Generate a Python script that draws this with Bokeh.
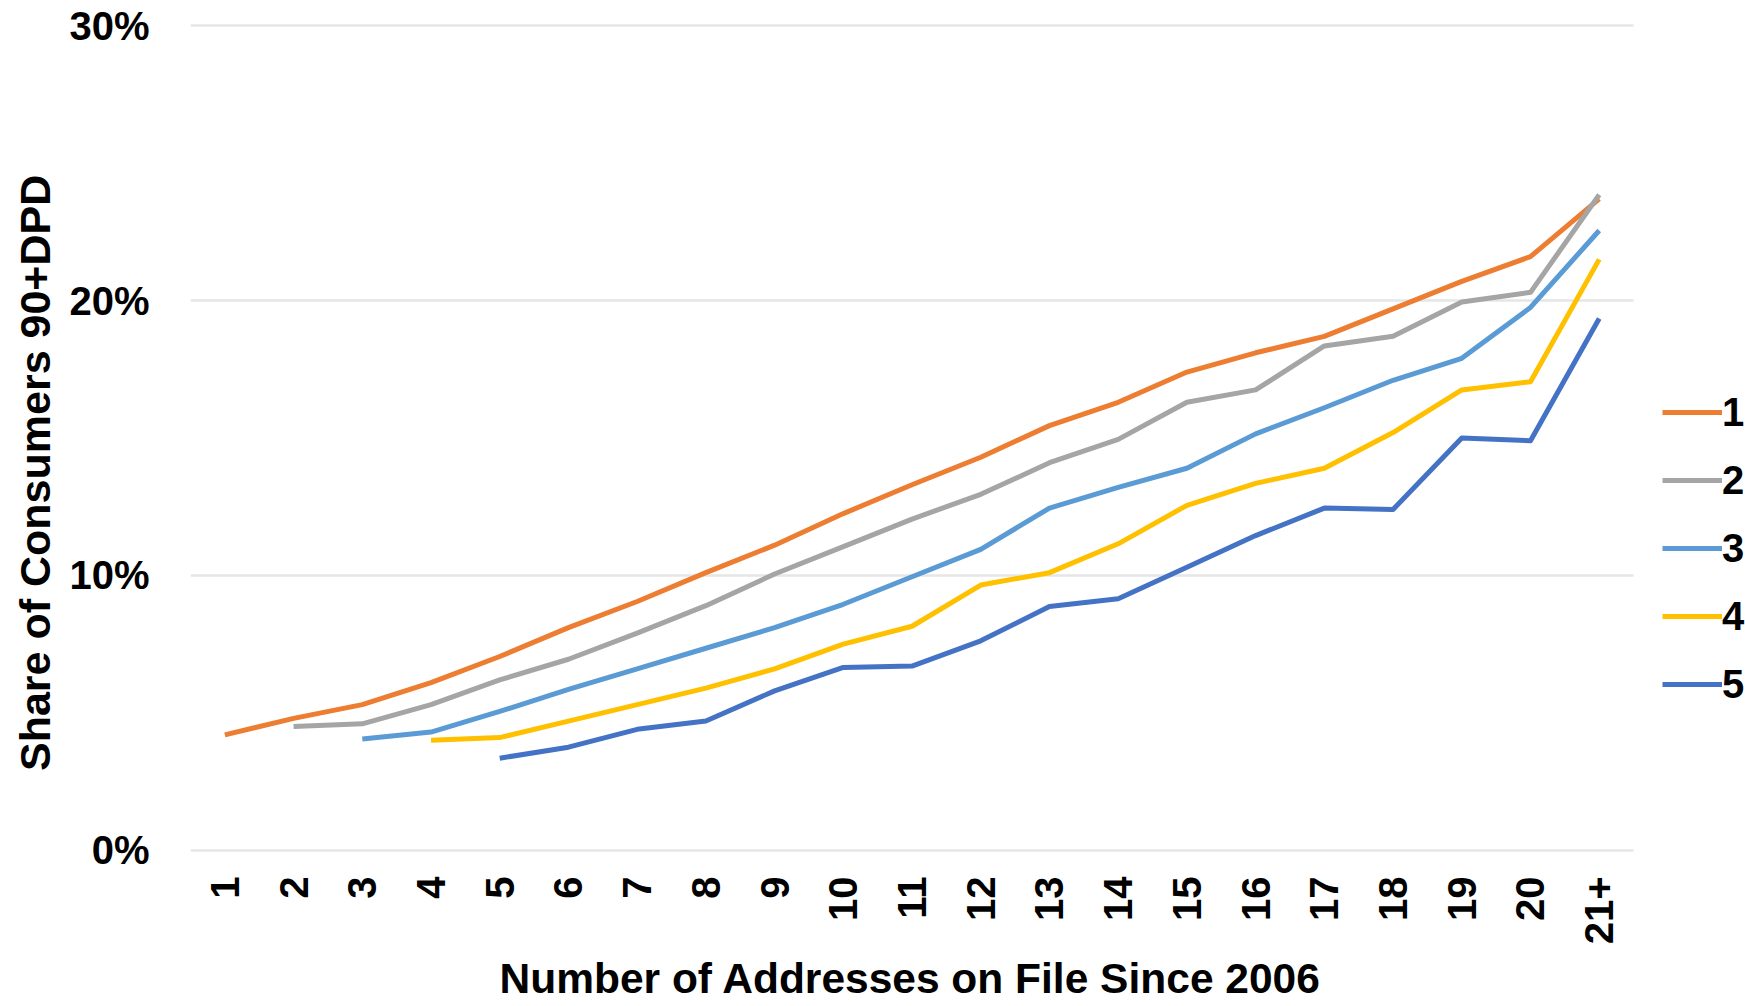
import math
from bokeh.plotting import figure
from bokeh.models import (Range1d, FixedTicker, NumeralTickFormatter,
                          Legend, LegendItem, Title, ColumnDataSource)
from bokeh.embed import file_html
from bokeh.resources import INLINE

nan = float("nan")

categories = [str(i) for i in range(1, 21)] + ["21+"]

series_names = ["1", "2", "3", "4", "5"]
series_colors = ["#ED7D31", "#A5A5A5", "#5B9BD5", "#FFC000", "#4472C4"]

s1 = [4.2, 4.8, 5.3, 6.1, 7.05, 8.1, 9.05, 10.1, 11.1, 12.25, 13.3, 14.3, 15.45,
      16.3, 17.4, 18.1, 18.7, 19.7, 20.7, 21.6, 23.7]
s2 = [nan, 4.5, 4.6, 5.3, 6.2, 6.95, 7.9, 8.9, 10.05, 11.05, 12.05, 12.95, 14.1,
      14.95, 16.3, 16.75, 18.35, 18.7, 19.95, 20.3, 23.85]
s3 = [nan, nan, 4.05, 4.3, 5.05, 5.85, 6.6, 7.35, 8.1, 8.95, 9.95, 10.95, 12.45,
      13.2, 13.9, 15.15, 16.1, 17.1, 17.9, 19.75, 22.55]
s4 = [nan, nan, nan, 4.0, 4.1, 4.7, 5.3, 5.9, 6.6, 7.5, 8.15, 9.65, 10.1,
      11.15, 12.55, 13.35, 13.9, 15.2, 16.75, 17.05, 21.5]
s5 = [nan, nan, nan, nan, 3.35, 3.75, 4.4, 4.7, 5.8, 6.65, 6.7, 7.62, 8.87,
      9.15, 10.3, 11.45, 12.45, 12.4, 15.0, 14.9, 19.35]

y_ticks = [0.0, 0.1, 0.2, 0.3]
x_title = "Number of Addresses on File Since 2006"
y_title = "Share of Consumers 90+DPD"

FONT = "Liberation Sans"

# category slots are placed at 1..N on a numeric axis; the frame is extended
# to the right so that the legend can sit inside it
x_pos = list(range(1, len(categories) + 1))
n = len(categories)
W, H = 1745, 1006
LEFT = 189
plot_w = 1444                      # width of the category area in px
slot = plot_w / n
frame_w = W - LEFT
x_end = 0.5 + frame_w / slot

p = figure(width=W, height=H, output_backend="svg", toolbar_location=None,
           x_range=Range1d(0.5, x_end),
           y_range=Range1d(-0.003, 0.303),
           min_border_left=LEFT, min_border_right=0,
           min_border_top=17, min_border_bottom=147)
p.title.visible = False
p.outline_line_color = None
p.background_fill_color = "white"
p.border_fill_color = "white"

p.xgrid.grid_line_color = None
p.ygrid.grid_line_color = "#E6E6E6"
p.ygrid.grid_line_width = 2.5
try:
    p.ygrid.cross_bounds = (0.5, n + 0.5)
except Exception:
    pass

p.yaxis.ticker = FixedTicker(ticks=y_ticks)
p.yaxis.formatter = NumeralTickFormatter(format="0%")
p.xaxis.ticker = FixedTicker(ticks=x_pos)
p.xaxis.major_label_overrides = {i: c for i, c in zip(x_pos, categories)}
p.xaxis.bounds = (0.5, n + 0.5)
for ax in (p.xaxis[0], p.yaxis[0]):
    ax.axis_line_color = None
    ax.major_tick_line_color = None
    ax.minor_tick_line_color = None
    ax.major_tick_out = 0
    ax.major_tick_in = 0
    ax.minor_tick_out = 0
    ax.minor_tick_in = 0
    ax.major_label_text_font = FONT
    ax.major_label_text_font_style = "bold"
    ax.major_label_text_font_size = "40px"
    ax.major_label_text_color = "black"
p.yaxis.major_label_standoff = 41
p.xaxis.major_label_standoff = 18
p.xaxis.major_label_orientation = math.pi / 2

xtitle = Title(text=x_title, align="left", offset=309, standoff=10,
               vertical_align="bottom",
               text_font=FONT, text_font_style="bold", text_font_size="42.5px",
               text_color="black")
p.add_layout(xtitle, "below")

ytitle = Title(text=y_title, align="left", offset=87.5, standoff=16,
               text_font=FONT, text_font_style="bold", text_font_size="43px",
               text_color="black")
p.add_layout(ytitle, "left")

all_series = [s1, s2, s3, s4, s5]
items = []
for name, color, vals in zip(series_names, series_colors, all_series):
    src = ColumnDataSource(dict(x=x_pos, y=[v / 100.0 for v in vals]))
    r = p.line("x", "y", source=src, line_color=color, line_width=5,
               line_join="round")
    items.append(LegendItem(label=name, renderers=[r]))

legend = Legend(items=items, location=(1472, 151.5), orientation="vertical",
                glyph_width=60, glyph_height=20, label_height=20,
                label_standoff=0, spacing=23, padding=0, margin=0,
                border_line_color=None, background_fill_alpha=0,
                label_text_font=FONT, label_text_font_style="bold",
                label_text_font_size="40px", label_text_color="black")
p.add_layout(legend, "center")

open("out.html", "w").write(file_html(p, INLINE))
